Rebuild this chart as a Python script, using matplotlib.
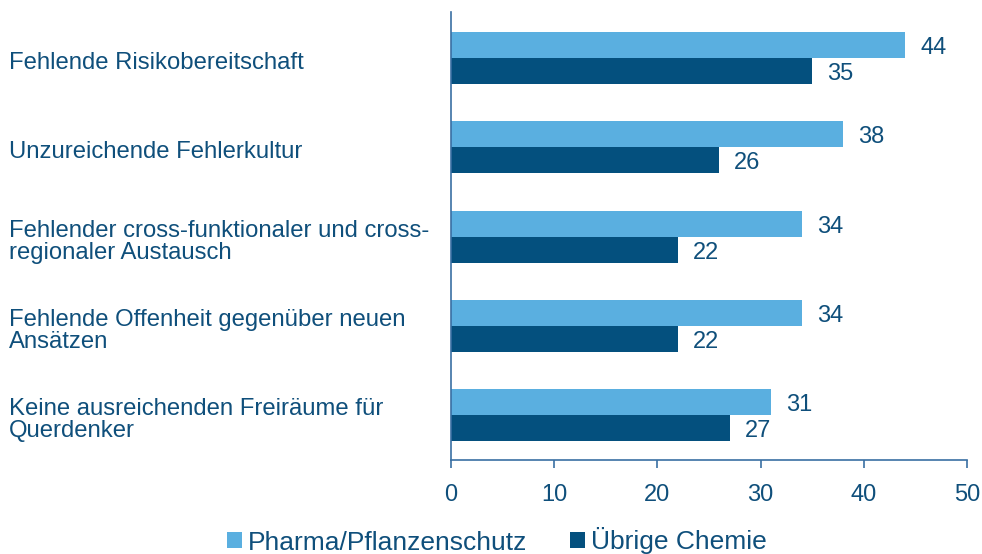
import matplotlib.pyplot as plt
import numpy as np

categories = [
    "Fehlende Risikobereitschaft",
    "Unzureichende Fehlerkultur",
    "Fehlender cross-funktionaler und cross-\nregionaler Austausch",
    "Fehlende Offenheit gegenüber neuen\nAnsätzen",
    "Keine ausreichenden Freiräume für\nQuerdenker",
]
pharma = [44, 38, 34, 34, 31]
chemie = [35, 26, 22, 22, 27]
series_names = ["Pharma/Pflanzenschutz", "Übrige Chemie"]

light = "#5aafe0"
dark = "#04507e"
text_col = "#0f4f7b"
spine_col = "#3a6fa3"

plt.rcParams['font.family'] = ['Liberation Sans', 'DejaVu Sans']

fig = plt.figure(figsize=(9.82, 5.54), dpi=100)
ax = fig.add_axes([451 / 982, 1 - 460 / 554, 516 / 982, 448 / 554])

y = np.arange(len(categories))
h = 0.29
b1 = ax.barh(y - h / 2, pharma, height=h, color=light, label=series_names[0])
b2 = ax.barh(y + h / 2, chemie, height=h, color=dark, label=series_names[1])

for bars, vals in [(b1, pharma), (b2, chemie)]:
    for bar, v in zip(bars, vals):
        ax.annotate(str(v), (v, bar.get_y() + bar.get_height() / 2),
                    xytext=(15, -3), textcoords='offset pixels',
                    va='center', ha='left', fontsize=17, color=text_col)

ax.set_xlim(0, 50)
ax.set_ylim(4.5, -0.515)
ax.set_xticks(range(0, 51, 10))
ax.set_yticks([])
ax.tick_params(axis='x', colors=spine_col, labelcolor=text_col, labelsize=17,
               length=6, width=1.2, pad=11)
for s in ['top', 'right']:
    ax.spines[s].set_visible(False)
for s in ['left', 'bottom']:
    ax.spines[s].set_color(spine_col)
    ax.spines[s].set_linewidth(1.2)

for yi, cat in zip(y, categories):
    ax.annotate(cat, (0, yi), xycoords=('figure pixels', 'data'),
                xytext=(9, -5), textcoords='offset pixels',
                ha='left', va='center', fontsize=17.2, color=text_col,
                linespacing=1.0, annotation_clip=False)

fig.legend(handles=[b1, b2], labels=series_names, loc='center',
           bbox_to_anchor=(0.506, 1 - 541 / 554), ncol=2, frameon=False,
           fontsize=19, labelcolor=text_col, handlelength=0.55,
           handleheight=0.55, handletextpad=0.22, columnspacing=1.65)

fig.savefig("out.png", dpi=100)
